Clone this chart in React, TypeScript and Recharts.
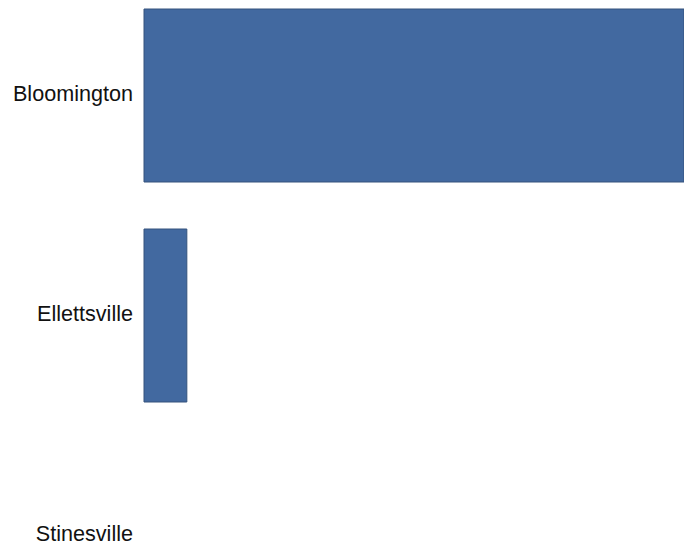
import { BarChart, Bar, XAxis, YAxis } from "recharts";

const towns = ["Bloomington", "Ellettsville", "Stinesville"];
const population = [80405, 6378, 0];

const data = towns.map((name, i) => ({ name, value: population[i] }));

const App = () => {
  return (
    <div style={{ position: "absolute", left: 0, top: -15, width: 684, height: 660 }}>
      <BarChart
        width={684}
        height={660}
        data={data}
        layout="vertical"
        margin={{ top: 0, right: 0, bottom: 0, left: 0 }}
      >
        <XAxis type="number" hide domain={[0, 80405]} />
        <YAxis
          type="category"
          dataKey="name"
          width={144}
          axisLine={false}
          tickLine={false}
          tickSize={0}
          tickMargin={11}
          tick={{ fill: "#111", fontSize: 21.6, dy: -2, fontFamily: "Liberation Sans, Arial, sans-serif" }}
        />
        <Bar
          dataKey="value"
          fill="#4269a0"
          stroke="#34527c"
          strokeWidth={1}
          barSize={173}
          isAnimationActive={false}
        />
      </BarChart>
    </div>
  );
};

export default App;
